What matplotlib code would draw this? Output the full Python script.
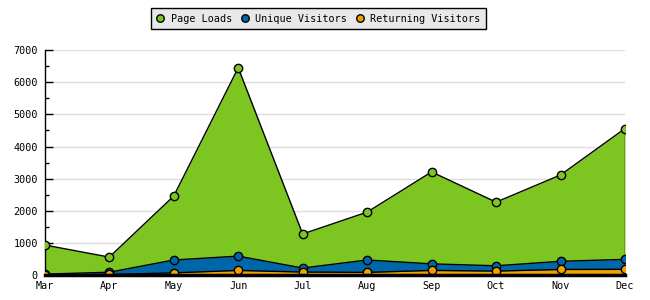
import matplotlib.pyplot as plt
from matplotlib.ticker import MultipleLocator

months = ["Mar", "Apr", "May", "Jun", "Jul", "Aug", "Sep", "Oct", "Nov", "Dec"]
page_loads = [935, 560, 2460, 6450, 1280, 1960, 3210, 2270, 3115, 4560]
unique_visitors = [30, 90, 470, 590, 220, 470, 350, 290, 430, 490]
returning_visitors = [10, 20, 70, 145, 95, 85, 145, 125, 175, 180]

green = "#7dc622"
blue = "#0066aa"
orange = "#f0a000"

plt.rcParams['font.family'] = ['DejaVu Sans Mono']
plt.rcParams['font.size'] = 7.3

fig = plt.figure(figsize=(6.5, 3), dpi=100)
ax = fig.add_axes([0.069, 0.083, 0.8925, 0.75])
x = list(range(len(months)))

series = [
    ("Page Loads", page_loads, green),
    ("Unique Visitors", unique_visitors, blue),
    ("Returning Visitors", returning_visitors, orange),
]
handles = []
for name, vals, col in series:
    ax.fill_between(x, 0, vals, color=col, lw=0, zorder=2)
    ax.plot(x, vals, color="black", lw=1, zorder=3)
    h, = ax.plot(x, vals, ls="none", marker="o", ms=6, mfc=col, mec="black",
                 mew=1, zorder=4, label=name)
    handles.append(h)
ax.plot([x[-1], x[-1]], [0, page_loads[-1]], color="black", lw=1, zorder=3)

ax.set_xlim(0, len(months) - 1)
ax.set_ylim(0, 7000)
ax.set_xticks(x)
ax.set_xticklabels(months)
ax.yaxis.set_major_locator(MultipleLocator(1000))
ax.yaxis.set_minor_locator(MultipleLocator(500))
ax.grid(axis="y", color="#dddddd", lw=1, zorder=0)
ax.tick_params(axis="y", which="major", direction="in", length=6, width=1, pad=5)
ax.tick_params(axis="y", which="minor", direction="in", length=3, width=1)
ax.tick_params(axis="x", length=0, pad=4)
for s in ["top", "right"]:
    ax.spines[s].set_visible(False)
ax.spines["left"].set_linewidth(1)
ax.spines["bottom"].set_linewidth(2.5)
ax.spines["bottom"].set_zorder(5)

leg = fig.legend(handles=handles, loc="upper center", bbox_to_anchor=(0.49, 0.99),
                 ncol=3, frameon=True, fancybox=False, handlelength=0.8,
                 handletextpad=0.6, columnspacing=0.9, borderpad=0.55,
                 markerscale=0.9)
leg.get_frame().set_facecolor("#e8e8e8")
leg.get_frame().set_edgecolor("black")
leg.get_frame().set_linewidth(1)
leg.get_frame().set_alpha(1)

fig.savefig("out.png", dpi=100)
